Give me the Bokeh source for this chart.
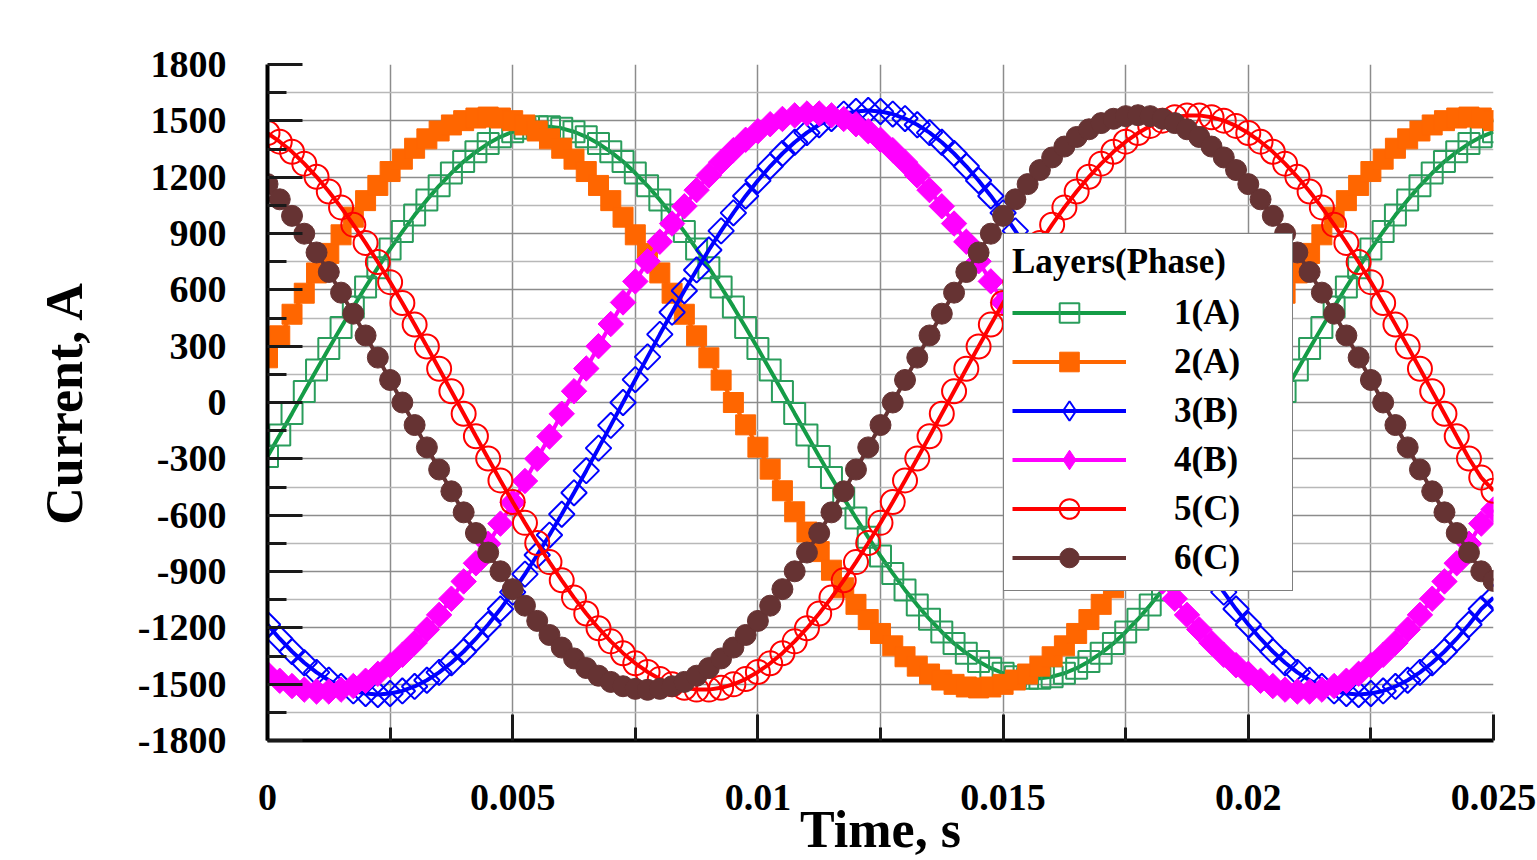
from bokeh.plotting import figure
from bokeh.models import Range1d, FixedTicker, CustomJSTickFormatter, Legend, LegendItem
from bokeh.embed import file_html
from bokeh.resources import INLINE

FONT = "Liberation Serif"

# ---------------- data ----------------
time_s = [0.0, 0.00025, 0.0005, 0.00075, 0.001, 0.00125, 0.0015, 0.00175, 0.002, 0.00225,
          0.0025, 0.00275, 0.003, 0.00325, 0.0035, 0.00375, 0.004, 0.00425, 0.0045, 0.00475,
          0.005, 0.00525, 0.0055, 0.00575, 0.006, 0.00625, 0.0065, 0.00675, 0.007, 0.00725,
          0.0075, 0.00775, 0.008, 0.00825, 0.0085, 0.00875, 0.009, 0.00925, 0.0095, 0.00975,
          0.01, 0.01025, 0.0105, 0.01075, 0.011, 0.01125, 0.0115, 0.01175, 0.012, 0.01225,
          0.0125, 0.01275, 0.013, 0.01325, 0.0135, 0.01375, 0.014, 0.01425, 0.0145, 0.01475,
          0.015, 0.01525, 0.0155, 0.01575, 0.016, 0.01625, 0.0165, 0.01675, 0.017, 0.01725,
          0.0175, 0.01775, 0.018, 0.01825, 0.0185, 0.01875, 0.019, 0.01925, 0.0195, 0.01975,
          0.02, 0.02025, 0.0205, 0.02075, 0.021, 0.02125, 0.0215, 0.02175, 0.022, 0.02225,
          0.0225, 0.02275, 0.023, 0.02325, 0.0235, 0.02375, 0.024, 0.02425, 0.0245, 0.02475,
          0.025]

layer1_A = [-287, -173, -58, 58, 173, 287, 399, 509, 615, 718,
            817, 910, 998, 1079, 1154, 1222, 1283, 1335, 1379, 1415,
            1442, 1460, 1469, 1469, 1460, 1442, 1415, 1379, 1335, 1283,
            1222, 1154, 1079, 998, 910, 817, 718, 615, 509, 399,
            287, 173, 58, -58, -173, -287, -399, -509, -615, -718,
            -817, -910, -998, -1079, -1154, -1222, -1283, -1335, -1379, -1415,
            -1442, -1460, -1469, -1469, -1460, -1442, -1415, -1379, -1335, -1283,
            -1222, -1154, -1079, -998, -910, -817, -718, -615, -509, -399,
            -287, -173, -58, 58, 173, 287, 399, 509, 615, 718,
            817, 910, 998, 1079, 1154, 1222, 1283, 1335, 1379, 1415,
            1442]

layer2_A = [238, 355, 470, 582, 690, 794, 893, 987, 1075, 1156,
            1230, 1296, 1354, 1404, 1446, 1478, 1501, 1515, 1520, 1515,
            1501, 1478, 1446, 1404, 1354, 1296, 1230, 1156, 1075, 987,
            893, 794, 690, 582, 470, 355, 238, 119, 0, -119,
            -238, -355, -470, -582, -690, -794, -893, -987, -1075, -1156,
            -1230, -1296, -1354, -1404, -1446, -1478, -1501, -1515, -1520, -1515,
            -1501, -1478, -1446, -1404, -1354, -1296, -1230, -1156, -1075, -987,
            -893, -794, -690, -582, -470, -355, -238, -119, 0, 119,
            238, 355, 470, 582, 690, 794, 893, 987, 1075, 1156,
            1230, 1296, 1354, 1404, 1446, 1478, 1501, 1515, 1520, 1515,
            1501]

layer3_B = [-1182, -1258, -1326, -1386, -1437, -1479, -1512, -1536, -1550, -1555,
            -1550, -1536, -1512, -1479, -1437, -1386, -1326, -1258, -1182, -1100,
            -1010, -914, -812, -706, -595, -481, -363, -243, -122, 0,
            122, 243, 363, 481, 595, 706, 812, 914, 1010, 1100,
            1182, 1258, 1326, 1386, 1437, 1479, 1512, 1536, 1550, 1555,
            1550, 1536, 1512, 1479, 1437, 1386, 1326, 1258, 1182, 1100,
            1010, 914, 812, 706, 595, 481, 363, 243, 122, 0,
            -122, -243, -363, -481, -595, -706, -812, -914, -1010, -1100,
            -1182, -1258, -1326, -1386, -1437, -1479, -1512, -1536, -1550, -1555,
            -1550, -1536, -1512, -1479, -1437, -1386, -1326, -1258, -1182, -1100,
            -1040]

layer4_B = [-1445, -1482, -1510, -1529, -1539, -1539, -1529, -1510, -1482, -1445,
            -1399, -1344, -1280, -1209, -1131, -1045, -953, -856, -752, -645,
            -533, -418, -300, -181, -60, 60, 181, 300, 418, 533,
            645, 752, 856, 953, 1045, 1131, 1209, 1280, 1344, 1399,
            1445, 1482, 1510, 1529, 1539, 1539, 1529, 1510, 1482, 1445,
            1399, 1344, 1280, 1209, 1131, 1045, 953, 856, 752, 645,
            533, 418, 300, 181, 60, -60, -181, -300, -418, -533,
            -645, -752, -856, -953, -1045, -1131, -1209, -1280, -1344, -1399,
            -1445, -1482, -1510, -1529, -1539, -1539, -1529, -1510, -1482, -1445,
            -1399, -1344, -1280, -1209, -1131, -1045, -953, -856, -752, -645,
            -570]

layer5_C = [1435, 1389, 1335, 1272, 1202, 1124, 1039, 947, 850, 748,
            641, 530, 415, 298, 180, 60, -60, -180, -298, -415,
            -530, -641, -748, -850, -947, -1039, -1124, -1202, -1272, -1335,
            -1389, -1435, -1473, -1501, -1519, -1529, -1529, -1519, -1501, -1473,
            -1435, -1389, -1335, -1272, -1202, -1124, -1039, -947, -850, -748,
            -641, -530, -415, -298, -180, -60, 60, 180, 298, 415,
            530, 641, 748, 850, 947, 1039, 1124, 1202, 1272, 1335,
            1389, 1435, 1473, 1501, 1519, 1529, 1529, 1519, 1501, 1473,
            1435, 1389, 1335, 1272, 1202, 1124, 1039, 947, 850, 748,
            641, 530, 415, 298, 180, 60, -60, -180, -298, -400,
            -470]

layer6_C = [1163, 1082, 994, 899, 799, 695, 585, 473, 357, 239,
            120, 0, -120, -239, -357, -473, -585, -695, -799, -899,
            -994, -1082, -1163, -1238, -1305, -1363, -1414, -1455, -1488, -1511,
            -1525, -1530, -1525, -1511, -1488, -1455, -1414, -1363, -1305, -1238,
            -1163, -1082, -994, -899, -799, -695, -585, -473, -357, -239,
            -120, 0, 120, 239, 357, 473, 585, 695, 799, 899,
            994, 1082, 1163, 1238, 1305, 1363, 1414, 1455, 1488, 1511,
            1525, 1530, 1525, 1511, 1488, 1455, 1414, 1363, 1305, 1238,
            1163, 1082, 994, 899, 799, 695, 585, 473, 357, 239,
            120, 0, -120, -239, -357, -473, -585, -695, -799, -899,
            -950]

series_labels = ["1(A)", "2(A)", "3(B)", "4(B)", "5(C)", "6(C)"]
legend_title = "Layers(Phase)"

x_major_ticks = [0, 0.005, 0.01, 0.015, 0.02, 0.025]
x_minor_ticks = [0.0025, 0.0075, 0.0125, 0.0175, 0.0225]
y_major_ticks = [-1800, -1500, -1200, -900, -600, -300, 0, 300, 600, 900, 1200, 1500, 1800]
y_minor_ticks = [-1650, -1350, -1050, -750, -450, -150, 150, 450, 750, 1050, 1350, 1650]

# ---------------- figure ----------------
p = figure(width=1537, height=860, output_backend="svg", toolbar_location=None,
           x_range=Range1d(0, 0.025), y_range=Range1d(-1800, 1800),
           min_border_left=267, min_border_right=44, min_border_top=64, min_border_bottom=119)
p.outline_line_color = None
p.background_fill_color = "white"
p.border_fill_color = "white"

p.xaxis.ticker = FixedTicker(ticks=x_major_ticks, minor_ticks=x_minor_ticks)
p.yaxis.ticker = FixedTicker(ticks=y_major_ticks, minor_ticks=y_minor_ticks)
p.xaxis.formatter = CustomJSTickFormatter(code="return String(Math.round(tick*1000000)/1000000);")
p.yaxis.formatter = CustomJSTickFormatter(code="return tick.toFixed(0);")

for ax in (p.xaxis[0], p.yaxis[0]):
    ax.axis_line_width = 4
    ax.axis_line_color = "black"
    ax.major_tick_line_width = 3
    ax.minor_tick_line_width = 3
    ax.major_tick_line_color = "#1a1a1a"
    ax.minor_tick_line_color = "#1a1a1a"
    ax.major_tick_out = 0
    ax.minor_tick_out = 0
    ax.major_label_text_font = FONT
    ax.major_label_text_font_style = "bold"
    ax.major_label_text_font_size = "38px"
    ax.major_label_text_color = "black"

p.xaxis.major_tick_in = 26
p.xaxis.minor_tick_in = 13
p.yaxis.major_tick_in = 35
p.yaxis.minor_tick_in = 19
p.xaxis.major_label_standoff = 44
p.yaxis.major_label_standoff = 41

p.yaxis.axis_label = "Current, A"
p.xaxis.axis_label = "Time, s"
for ax in (p.xaxis[0], p.yaxis[0]):
    ax.axis_label_text_font = FONT
    ax.axis_label_text_font_style = "bold"
    ax.axis_label_text_font_size = "52px"
    ax.axis_label_text_color = "black"
p.yaxis.axis_label_standoff = 42
p.xaxis.axis_label_standoff = -12

p.xgrid.grid_line_color = "#8c8c8c"
p.xgrid.minor_grid_line_color = "#8c8c8c"
p.ygrid.grid_line_color = "#8c8c8c"
p.ygrid.minor_grid_line_color = "#b8b8b8"
for g in (p.xgrid[0], p.ygrid[0]):
    g.grid_line_width = 1.5
    g.minor_grid_line_width = 1.5

# ---------------- series ----------------
styles = [
    # line colour, marker, marker line colour, marker fill, size, angle, legend marker
    ("#149c46", "square", "#2a9d5c", None, 21, 0.0, None),
    ("#ff6600", "square", "#ff6600", "#ff6600", 20, 0.0, None),
    ("#0000ff", "square", "#0000ff", None, 18, 0.7854, "diamond"),
    ("#ff00ff", "square", "#ff00ff", "#ff00ff", 18, 0.7854, "diamond"),
    ("#ff0000", "circle", "#ff0000", None, 24, 0.0, None),
    ("#663333", "circle", "#663333", "#663333", 21, 0.0, None),
]
all_y = [layer1_A, layer2_A, layer3_B, layer4_B, layer5_C, layer6_C]

items = []
for lab, ys, (lc, mk, mlc, mfc, sz, ang, legmk) in zip(series_labels, all_y, styles):
    lr = p.line(time_s, ys, line_color=lc, line_width=4)
    lw = 2 if mfc is None else 1
    sr = p.scatter(time_s, ys, marker=mk, size=sz, angle=ang, line_color=mlc,
                   fill_color=mfc, line_width=lw)
    rends = [lr, sr]
    if legmk is not None:
        # legend-only glyph (legend cannot rotate markers)
        proxy = p.scatter(time_s, ys, marker=legmk, size=sz, line_color=mlc,
                          fill_color=mfc, line_width=lw, visible=False)
        rends = [lr, proxy]
    items.append(LegendItem(label=lab, renderers=rends))

legend = Legend(items=items, location=(736, 149), title=legend_title,
                glyph_width=114, glyph_height=49, label_height=49, spacing=0,
                padding=8, margin=0, label_standoff=48, label_width=110,
                label_text_font=FONT, label_text_font_style="bold",
                label_text_font_size="35px", label_text_color="black",
                title_text_font=FONT, title_text_font_style="bold",
                title_text_font_size="35px", title_text_color="black",
                title_standoff=6,
                border_line_color="black", border_line_width=1.5,
                background_fill_color="white", background_fill_alpha=1.0,
                inactive_fill_alpha=0.0)
p.add_layout(legend)

open("out.html", "w").write(file_html(p, INLINE))
